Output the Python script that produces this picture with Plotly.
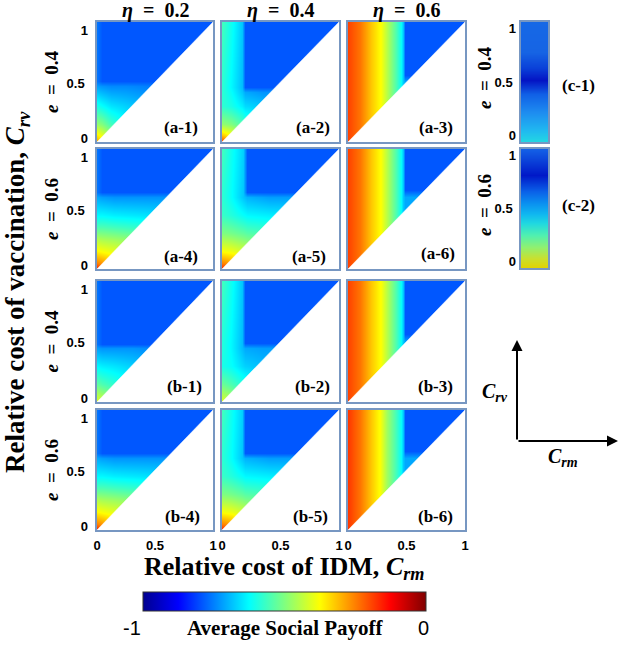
import plotly.graph_objects as go

# ---------------- data ----------------
eta_values = [0.2, 0.4, 0.6]
e_values = [0.4, 0.6, 0.4, 0.6]
panel_names = ["(a-1)", "(a-2)", "(a-3)", "(a-4)", "(a-5)", "(a-6)",
               "(b-1)", "(b-2)", "(b-3)", "(b-4)", "(b-5)", "(b-6)"]
cost_ticks = [0, 0.5, 1]
payoff_range = [-1, 0]

# (a-1)  eta=0.2, e=0.4
a1_crm = [0, 0.04, 0.12, 0.25, 0.45, 1]
a1_crv = [0, 0.06, 0.15, 0.3, 0.47, 0.51, 1]
a1_payoff = [
    [-0.28, -0.36, -0.45, -0.55, -0.65, -0.70],
    [-0.36, -0.40, -0.48, -0.58, -0.66, -0.70],
    [-0.48, -0.50, -0.56, -0.62, -0.68, -0.70],
    [-0.60, -0.62, -0.65, -0.67, -0.70, -0.72],
    [-0.72, -0.73, -0.74, -0.74, -0.75, -0.75],
    [-0.76, -0.79, -0.79, -0.79, -0.79, -0.79],
    [-0.76, -0.79, -0.79, -0.79, -0.79, -0.79],
]
# (a-2)  eta=0.4, e=0.4
a2_crm = [0, 0.08, 0.17, 0.2, 0.35, 1]
a2_crv = [0, 0.06, 0.15, 0.3, 0.42, 0.46, 1]
a2_payoff = [
    [-0.18, -0.30, -0.40, -0.45, -0.55, -0.60],
    [-0.32, -0.38, -0.45, -0.48, -0.56, -0.60],
    [-0.48, -0.50, -0.55, -0.57, -0.62, -0.65],
    [-0.58, -0.60, -0.64, -0.66, -0.68, -0.70],
    [-0.58, -0.62, -0.68, -0.71, -0.73, -0.73],
    [-0.58, -0.63, -0.69, -0.79, -0.79, -0.79],
    [-0.56, -0.61, -0.68, -0.79, -0.79, -0.79],
]
# (a-3)  eta=0.6, e=0.4
a3_crm = [0, 0.1, 0.2, 0.28, 0.35, 0.41, 0.45, 0.47, 0.49, 1]
a3_crv = [0, 0.5, 0.56, 1]
a3_payoff = [
    [-0.19, -0.24, -0.32, -0.38, -0.47, -0.55, -0.62, -0.68, -0.71, -0.72],
    [-0.19, -0.24, -0.32, -0.38, -0.47, -0.55, -0.62, -0.68, -0.71, -0.72],
    [-0.19, -0.24, -0.32, -0.38, -0.47, -0.55, -0.62, -0.68, -0.79, -0.79],
    [-0.19, -0.24, -0.32, -0.38, -0.47, -0.55, -0.62, -0.68, -0.79, -0.79],
]
# (a-4)  eta=0.2, e=0.6
a4_crm = [0, 0.04, 0.15, 0.4, 0.6, 1]
a4_crv = [0, 0.05, 0.15, 0.25, 0.35, 0.45, 0.6, 0.64, 1]
a4_payoff = [
    [-0.15, -0.20, -0.30, -0.40, -0.50, -0.50],
    [-0.25, -0.27, -0.32, -0.42, -0.50, -0.50],
    [-0.37, -0.38, -0.40, -0.45, -0.52, -0.55],
    [-0.45, -0.46, -0.47, -0.50, -0.55, -0.58],
    [-0.55, -0.55, -0.56, -0.58, -0.60, -0.62],
    [-0.63, -0.63, -0.64, -0.65, -0.66, -0.68],
    [-0.71, -0.72, -0.73, -0.73, -0.73, -0.73],
    [-0.76, -0.79, -0.79, -0.79, -0.79, -0.79],
    [-0.76, -0.79, -0.79, -0.79, -0.79, -0.79],
]
# (a-5)  eta=0.4, e=0.6
a5_crm = [0, 0.08, 0.18, 0.21, 0.4, 1]
a5_crv = [0, 0.05, 0.15, 0.3, 0.45, 0.6, 0.64, 1]
a5_payoff = [
    [-0.15, -0.22, -0.30, -0.35, -0.45, -0.50],
    [-0.25, -0.28, -0.33, -0.36, -0.45, -0.50],
    [-0.38, -0.39, -0.42, -0.43, -0.48, -0.52],
    [-0.50, -0.51, -0.53, -0.54, -0.56, -0.58],
    [-0.57, -0.59, -0.62, -0.63, -0.64, -0.66],
    [-0.58, -0.62, -0.68, -0.70, -0.72, -0.72],
    [-0.58, -0.62, -0.68, -0.79, -0.79, -0.79],
    [-0.56, -0.61, -0.67, -0.79, -0.79, -0.79],
]
# (a-6)  eta=0.6, e=0.6
a6_crm = [0, 0.1, 0.2, 0.28, 0.35, 0.41, 0.45, 0.47, 0.49, 1]
a6_crv = [0, 0.6, 0.66, 1]
a6_payoff = [
    [-0.19, -0.24, -0.32, -0.38, -0.47, -0.55, -0.62, -0.68, -0.71, -0.72],
    [-0.19, -0.24, -0.32, -0.38, -0.47, -0.55, -0.62, -0.68, -0.71, -0.72],
    [-0.19, -0.24, -0.32, -0.38, -0.47, -0.55, -0.62, -0.68, -0.79, -0.79],
    [-0.19, -0.24, -0.32, -0.38, -0.47, -0.55, -0.62, -0.68, -0.79, -0.79],
]
# (b-1)  eta=0.2, e=0.4
b1_crm = [0, 0.04, 0.15, 0.3, 0.46, 1]
b1_crv = [0, 0.05, 0.15, 0.3, 0.45, 0.48, 1]
b1_payoff = [
    [-0.40, -0.44, -0.50, -0.55, -0.60, -0.60],
    [-0.44, -0.46, -0.52, -0.57, -0.62, -0.62],
    [-0.53, -0.55, -0.58, -0.62, -0.65, -0.65],
    [-0.63, -0.64, -0.65, -0.67, -0.69, -0.70],
    [-0.72, -0.73, -0.73, -0.73, -0.74, -0.74],
    [-0.76, -0.79, -0.79, -0.79, -0.79, -0.79],
    [-0.76, -0.79, -0.79, -0.79, -0.79, -0.79],
]
# (b-2)  eta=0.4, e=0.4
b2_crm = [0, 0.08, 0.17, 0.2, 0.35, 1]
b2_crv = [0, 0.06, 0.15, 0.3, 0.45, 0.49, 1]
b2_payoff = [
    [-0.40, -0.44, -0.50, -0.52, -0.58, -0.60],
    [-0.45, -0.48, -0.53, -0.55, -0.60, -0.62],
    [-0.52, -0.55, -0.59, -0.60, -0.64, -0.66],
    [-0.60, -0.62, -0.66, -0.67, -0.69, -0.70],
    [-0.59, -0.63, -0.69, -0.71, -0.72, -0.72],
    [-0.59, -0.63, -0.69, -0.79, -0.79, -0.79],
    [-0.56, -0.61, -0.68, -0.79, -0.79, -0.79],
]
# (b-3)  eta=0.6, e=0.4
b3_crm = [0, 0.1, 0.2, 0.28, 0.35, 0.41, 0.45, 0.47, 0.49, 1]
b3_crv = [0, 0.5, 0.56, 1]
b3_payoff = [
    [-0.19, -0.24, -0.32, -0.38, -0.47, -0.55, -0.62, -0.68, -0.71, -0.72],
    [-0.19, -0.24, -0.32, -0.38, -0.47, -0.55, -0.62, -0.68, -0.71, -0.72],
    [-0.19, -0.24, -0.32, -0.38, -0.47, -0.55, -0.62, -0.68, -0.79, -0.79],
    [-0.19, -0.24, -0.32, -0.38, -0.47, -0.55, -0.62, -0.68, -0.79, -0.79],
]
# (b-4)  eta=0.2, e=0.6
b4_crm = [0, 0.04, 0.15, 0.4, 0.6, 1]
b4_crv = [0, 0.05, 0.15, 0.25, 0.35, 0.45, 0.6, 0.64, 1]
b4_payoff = [
    [-0.15, -0.20, -0.30, -0.40, -0.50, -0.50],
    [-0.25, -0.27, -0.32, -0.42, -0.50, -0.50],
    [-0.37, -0.38, -0.40, -0.45, -0.52, -0.55],
    [-0.45, -0.46, -0.47, -0.50, -0.55, -0.58],
    [-0.55, -0.55, -0.56, -0.58, -0.60, -0.62],
    [-0.63, -0.63, -0.64, -0.65, -0.66, -0.68],
    [-0.71, -0.72, -0.73, -0.73, -0.73, -0.73],
    [-0.76, -0.79, -0.79, -0.79, -0.79, -0.79],
    [-0.76, -0.79, -0.79, -0.79, -0.79, -0.79],
]
# (b-5)  eta=0.4, e=0.6
b5_crm = [0, 0.08, 0.17, 0.2, 0.4, 1]
b5_crv = [0, 0.05, 0.15, 0.3, 0.45, 0.6, 0.64, 1]
b5_payoff = [
    [-0.15, -0.22, -0.30, -0.35, -0.45, -0.50],
    [-0.25, -0.28, -0.33, -0.36, -0.45, -0.50],
    [-0.38, -0.39, -0.42, -0.43, -0.48, -0.52],
    [-0.50, -0.51, -0.53, -0.54, -0.56, -0.58],
    [-0.57, -0.59, -0.62, -0.63, -0.64, -0.66],
    [-0.58, -0.62, -0.68, -0.70, -0.72, -0.72],
    [-0.58, -0.62, -0.68, -0.79, -0.79, -0.79],
    [-0.56, -0.61, -0.67, -0.79, -0.79, -0.79],
]
# (b-6)  eta=0.6, e=0.6
b6_crm = [0, 0.1, 0.2, 0.27, 0.33, 0.4, 0.45, 0.47, 0.49, 1]
b6_crv = [0, 0.6, 0.66, 1]
b6_payoff = [
    [-0.18, -0.24, -0.32, -0.38, -0.47, -0.55, -0.62, -0.68, -0.71, -0.72],
    [-0.18, -0.24, -0.32, -0.38, -0.47, -0.55, -0.62, -0.68, -0.71, -0.72],
    [-0.18, -0.24, -0.32, -0.38, -0.47, -0.55, -0.62, -0.68, -0.79, -0.79],
    [-0.18, -0.24, -0.32, -0.38, -0.47, -0.55, -0.62, -0.68, -0.79, -0.79],
]

# side colour bars (c-1) and (c-2)
c1_levels = [0, 0.1, 0.25, 0.4, 0.52, 0.62, 0.75, 1]
c1_colors = ["#22D8E2", "#20B8F0", "#1E8CF0", "#1060E6", "#0414C4",
             "#0A40D8", "#1664E4", "#1668E6"]
c2_levels = [0, 0.08, 0.18, 0.28, 0.38, 0.45, 0.55, 0.65, 0.78, 0.9, 1]
c2_colors = ["#E2D200", "#C8E030", "#90F070", "#50F0B0", "#20D8E0",
             "#10B8F0", "#0A90F0", "#0A60E8", "#0018C8", "#0A40D8", "#1460E6"]
bar_ticks = [0, 0.5, 1]

# payoff colour scale (jet)
jet_stops = [0, 0.125, 0.375, 0.625, 0.875, 1]
jet_colors = ["#00008F", "#0000FF", "#00FFFF", "#FFFF00", "#FF0000", "#800000"]

panels = [
    (a1_crm, a1_crv, a1_payoff), (a2_crm, a2_crv, a2_payoff), (a3_crm, a3_crv, a3_payoff),
    (a4_crm, a4_crv, a4_payoff), (a5_crm, a5_crv, a5_payoff), (a6_crm, a6_crv, a6_payoff),
    (b1_crm, b1_crv, b1_payoff), (b2_crm, b2_crv, b2_payoff), (b3_crm, b3_crv, b3_payoff),
    (b4_crm, b4_crv, b4_payoff), (b5_crm, b5_crv, b5_payoff), (b6_crm, b6_crv, b6_payoff),
]

# ---------------- layout geometry (pixels) ----------------
W, H = 621, 646
col_px = [(97, 213), (222, 339), (348, 465)]
row_px = [(22, 142), (149, 269), (281, 402), (410, 530)]
cbar_x_px = (521, 548)
cbar_rows_px = [(22, 142), (149, 268)]
label_right = [0.89, 0.94, 0.915, 0.89, 0.906, 0.93, 0.92, 0.94, 0.915, 0.905, 0.923, 0.915]
label_y = [0.125, 0.125, 0.125, 0.1, 0.1, 0.13, 0.13, 0.13, 0.13, 0.11, 0.11, 0.11]
# pixel shifts of y tick labels (positive = downwards here)
panel_label_shift = {"top": 8, "mid": 1, "bot": -4}
bar_label_shift = {"top": 6, "mid": 0, "bot": -7}

FRAME = "#7797C2"
SERIF = "Liberation Serif"
SANS = "Liberation Sans"
SP = "\u2002"  # en space


def xd(a, b):
    return [a / W, b / W]


def yd(a, b):
    return [1 - b / H, 1 - a / H]


def px(x):
    return x / W


def py(y):
    return 1 - y / H


fig = go.Figure()
layout = {}
annotations = []
axis_counter = [16]

lo, hi = min(cost_ticks), max(cost_ticks)
tickfont = dict(family=SANS, size=13, color="black", weight="bold")


def add_left_labels(xs, ya_key, ticks, shifts, standoff):
    """main y axis shows the middle tick, two overlay axes show the end ticks"""
    main_name = "y" if ya_key == "yaxis" else ya_key.replace("yaxis", "y")
    layout[ya_key].update(tickvals=[ticks[1]], ticklabelshift=shifts["mid"],
                          showticklabels=True, ticklabelstandoff=standoff)
    for val, key in ((ticks[0], "bot"), (ticks[-1], "top")):
        n = axis_counter[0]
        axis_counter[0] += 1
        layout[f"yaxis{n}"] = dict(overlaying=main_name, anchor=xs, side="left",
                                   range=[ticks[0], ticks[-1]], showline=False, showgrid=False,
                                   zeroline=False, ticks="", tickvals=[val],
                                   tickfont=tickfont, ticklabelstandoff=standoff,
                                   ticklabelshift=shifts[key], automargin=False)
        fig.add_trace(go.Scatter(x=[], y=[], xaxis=xs, yaxis=f"y{n}", showlegend=False,
                                 hoverinfo="skip"))


for k, (crm, crv, pay) in enumerate(panels):
    r, c = divmod(k, 3)
    n = k + 1
    xs = "x" if n == 1 else f"x{n}"
    ys = "y" if n == 1 else f"y{n}"
    fig.add_trace(go.Heatmap(x=crm, y=crv, z=pay, coloraxis="coloraxis",
                             zsmooth="best", xaxis=xs, yaxis=ys, hoverinfo="skip"))
    # region C_rv < C_rm is not defined -> white
    fig.add_trace(go.Scatter(x=[lo, hi, hi, lo], y=[lo, lo, hi, lo], mode="lines",
                             fill="toself", fillcolor="white",
                             line=dict(color="white", width=0.5),
                             xaxis=xs, yaxis=ys, hoverinfo="skip", showlegend=False))
    xa = "xaxis" if n == 1 else f"xaxis{n}"
    ya = "yaxis" if n == 1 else f"yaxis{n}"
    layout[xa] = dict(domain=xd(*col_px[c]), range=[lo, hi], anchor=ys,
                      showline=True, mirror=True, linecolor=FRAME, linewidth=1.5,
                      showgrid=False, zeroline=False, ticks="",
                      tickvals=cost_ticks, showticklabels=(r == 3),
                      tickfont=tickfont, ticklabelstandoff=3, automargin=False)
    layout[ya] = dict(domain=yd(*row_px[r]), range=[lo, hi], anchor=xs,
                      showline=True, mirror=True, linecolor=FRAME, linewidth=1.5,
                      showgrid=False, zeroline=False, ticks="",
                      tickvals=cost_ticks, showticklabels=False,
                      tickfont=tickfont, automargin=False)
    if c == 0:
        add_left_labels(xs, ya, cost_ticks, panel_label_shift, 8)
    annotations.append(dict(text=f"<b>{panel_names[k]}</b>", xref=f"{xs} domain",
                            yref=f"{ys} domain", x=label_right[k], y=label_y[k],
                            xanchor="right", yanchor="middle", showarrow=False,
                            font=dict(family=SERIF, size=17, color="black")))

# side colour bars
for i, (levels, colors) in enumerate([(c1_levels, c1_colors), (c2_levels, c2_colors)]):
    n = 13 + i
    xs, ys = f"x{n}", f"y{n}"
    fig.add_trace(go.Heatmap(x=[0, 1], y=levels, z=[[v, v] for v in levels],
                             colorscale=[[v, col] for v, col in zip(levels, colors)],
                             zmin=0, zmax=1, zsmooth="best", showscale=False,
                             xaxis=xs, yaxis=ys, hoverinfo="skip"))
    layout[f"xaxis{n}"] = dict(domain=xd(*cbar_x_px), range=[0, 1], anchor=ys,
                               showline=True, mirror=True, linecolor=FRAME, linewidth=1.5,
                               showgrid=False, zeroline=False, showticklabels=False, ticks="",
                               automargin=False)
    layout[f"yaxis{n}"] = dict(domain=yd(*cbar_rows_px[i]), range=[0, 1], anchor=xs,
                               showline=True, mirror=True, linecolor=FRAME, linewidth=1.5,
                               showgrid=False, zeroline=False, ticks="",
                               tickfont=tickfont, automargin=False)
    add_left_labels(xs, f"yaxis{n}", bar_ticks, bar_label_shift, 4)

# full-figure helper axes for free text (same coordinates as the page)
layout["xaxis15"] = dict(domain=[0, 1], range=[0, 1], anchor="y15", visible=False, fixedrange=True)
layout["yaxis15"] = dict(domain=[0, 1], range=[0, 1], anchor="x15", visible=False, fixedrange=True)
fig.add_trace(go.Scatter(x=[], y=[], xaxis="x15", yaxis="y15", showlegend=False, hoverinfo="skip"))
FX, FY = "x15", "y15"

# column titles
for c, eta in enumerate(eta_values):
    annotations.append(dict(text=f"<b><i>η</i>{SP}={SP}{eta}</b>", xref=FX, yref=FY,
                            x=px(sum(col_px[c]) / 2), y=py(10), showarrow=False,
                            xanchor="center", yanchor="middle",
                            font=dict(family=SERIF, size=20, color="black")))
# row labels
for r, ev in enumerate(e_values):
    annotations.append(dict(text=f"<b><i>e</i>{SP}={SP}{ev}</b>", xref=FX, yref=FY,
                            x=px(51), y=py(sum(row_px[r]) / 2), showarrow=False,
                            textangle=-90, xanchor="center", yanchor="middle",
                            font=dict(family=SERIF, size=19, color="black")))
for i, ev in enumerate(e_values[:2]):
    annotations.append(dict(text=f"<b><i>e</i>{SP}={SP}{ev}</b>", xref=FX, yref=FY,
                            x=px(484), y=py([78, 205][i]), showarrow=False,
                            textangle=-90, xanchor="center", yanchor="middle",
                            font=dict(family=SERIF, size=19, color="black")))
    annotations.append(dict(text=f"<b>(c-{i + 1})</b>", xref=FX, yref=FY,
                            x=px(578), y=py([85, 205][i]), showarrow=False,
                            xanchor="center", yanchor="middle",
                            font=dict(family=SERIF, size=17, color="black")))

# axis titles
annotations.append(dict(text="<b>Relative cost of vaccination, <i>C</i><sub><i>rv</i></sub></b>",
                        xref=FX, yref=FY, x=px(17), y=py(292), showarrow=False,
                        textangle=-90, xanchor="center", yanchor="middle",
                        font=dict(family=SERIF, size=27, color="black")))
annotations.append(dict(text="<b>Relative cost of IDM, <i>C</i><sub><i>rm</i></sub></b>",
                        xref=FX, yref=FY, x=px(284), y=py(568), showarrow=False,
                        xanchor="center", yanchor="middle",
                        font=dict(family=SERIF, size=26, color="black")))

# axis sketch
annotations.append(dict(x=px(517), y=py(340), xref=FX, yref=FY, ax=0, ay=101,
                        axref="pixel", ayref="pixel", text="", showarrow=True,
                        arrowhead=2, arrowsize=1.1, arrowwidth=2, arrowcolor="black"))
annotations.append(dict(x=px(618), y=py(441), xref=FX, yref=FY, ax=-101, ay=0,
                        axref="pixel", ayref="pixel", text="", showarrow=True,
                        arrowhead=2, arrowsize=1.1, arrowwidth=2, arrowcolor="black"))
annotations.append(dict(text="<b><i>C</i><sub><i>rv</i></sub></b>", xref=FX, yref=FY,
                        x=px(495), y=py(392), showarrow=False, xanchor="center", yanchor="middle",
                        font=dict(family=SERIF, size=20, color="black")))
annotations.append(dict(text="<b><i>C</i><sub><i>rm</i></sub></b>", xref=FX, yref=FY,
                        x=px(563), y=py(457), showarrow=False, xanchor="center", yanchor="middle",
                        font=dict(family=SERIF, size=20, color="black")))

# bottom colour-bar labels
annotations.append(dict(text=str(payoff_range[0]), xref=FX, yref=FY, x=px(132), y=py(628),
                        showarrow=False, xanchor="center", yanchor="middle",
                        font=dict(family=SANS, size=20, color="black")))
annotations.append(dict(text=str(payoff_range[1]), xref=FX, yref=FY, x=px(423), y=py(628),
                        showarrow=False, xanchor="center", yanchor="middle",
                        font=dict(family=SANS, size=20, color="black")))
annotations.append(dict(text="<b>Average Social Payoff</b>", xref=FX, yref=FY,
                        x=px(285), y=py(628), showarrow=False, xanchor="center", yanchor="middle",
                        font=dict(family=SERIF, size=21, color="black")))

layout["coloraxis"] = dict(
    cmin=payoff_range[0], cmax=payoff_range[1],
    colorscale=[[s, col] for s, col in zip(jet_stops, jet_colors)],
    colorbar=dict(orientation="h", x=px(284.5), xanchor="center", y=py(612), yanchor="bottom",
                  len=283, lenmode="pixels", thickness=19, thicknessmode="pixels",
                  xpad=0, ypad=0, outlinecolor="#333333", outlinewidth=1,
                  showticklabels=False, ticks=""))

fig.update_layout(width=W, height=H, margin=dict(l=0, r=0, t=0, b=0, autoexpand=False),
                  autosize=False, paper_bgcolor="white", plot_bgcolor="rgba(0,0,0,0)",
                  showlegend=False, annotations=annotations, **layout)

fig.write_html("out.html", config={"displayModeBar": False},
               post_script="document.body.style.margin='0px';"
                           "document.body.style.padding='0px';"
                           "document.body.style.overflow='hidden';")
